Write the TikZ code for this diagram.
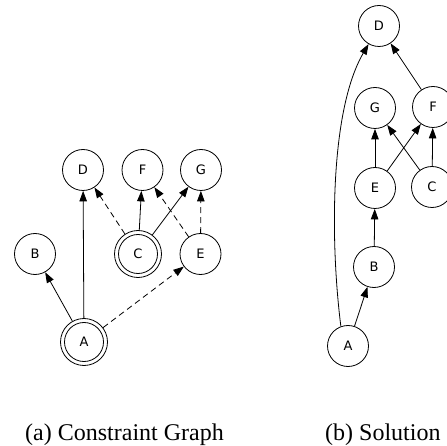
\documentclass[tikz,border=0pt]{standalone}
\usepackage{fontspec}
\setmainfont{Liberation Serif}
\newfontfamily\nodefont{DejaVu Sans}
\usetikzlibrary{arrows.meta}
\begin{document}
\begin{tikzpicture}[x=1pt,y=-1pt,
  vtx/.style={circle,draw,line width=0.8pt,minimum size=41pt,inner sep=0pt,font=\nodefont\fontsize{13}{13}\selectfont},
  dvtx/.style={vtx,minimum size=47pt},
  edge/.style={line width=0.8pt,-{Triangle[length=10.5pt,width=7.5pt]}},
  dedge/.style={edge,dash pattern=on 6pt off 4pt},
  captext/.style={font=\fontsize{24}{28}\selectfont,anchor=base west,inner sep=0pt}]
\useasboundingbox (0,0) rectangle (447,446);
% (a) Constraint Graph
\node[vtx] (aD) at (83,170) {D};
\node[vtx] (aF) at (142.5,170) {F};
\node[vtx] (aG) at (201,170) {G};
\node[vtx] (aB) at (35,254) {B};
\node[dvtx] (aC) at (138,254) {C};
\node[vtx] (aE) at (200.5,254) {E};
\node[dvtx] (aA) at (84,342) {A};
\draw[line width=0.8pt] (aC.center) circle (19.5pt);
\draw[line width=0.8pt] (aA.center) circle (19.5pt);
\draw[edge] (aA) -- (aB);
\draw[edge] (aA) -- (aD);
\draw[dedge] (aA) -- (aE);
\draw[dedge] (aC) -- (aD);
\draw[edge] (aC) -- (aF);
\draw[edge] (aC) -- (aG);
\draw[dedge] (aE) -- (aF);
\draw[dedge] (aE) -- (aG);
% (b) Solution
\node[vtx] (bD) at (379,26) {D};
\node[vtx] (bG) at (375,108) {G};
\node[vtx] (bF) at (433,107) {F};
\node[vtx] (bE) at (375,188) {E};
\node[vtx] (bC) at (432,187) {C};
\node[vtx] (bB) at (374,267) {B};
\node[vtx] (bA) at (348,346) {A};
\draw[edge] (bA) -- (bB);
\draw[edge] (bB) -- (bE);
\draw[edge] (bE) -- (bG);
\draw[edge] (bE) -- (bF);
\draw[edge] (bC) -- (bG);
\draw[edge] (bC) -- (bF);
\draw[edge] (bF) -- (bD);
\draw[edge] (bA.110) .. controls (330,240) and (330,110) .. (bD.240);
% captions
\node[captext] (capa) at (25,440) {(a) Constraint Graph};
\node[captext] (capb) at (325,440) {(b) Solution};
\end{tikzpicture}
\end{document}
